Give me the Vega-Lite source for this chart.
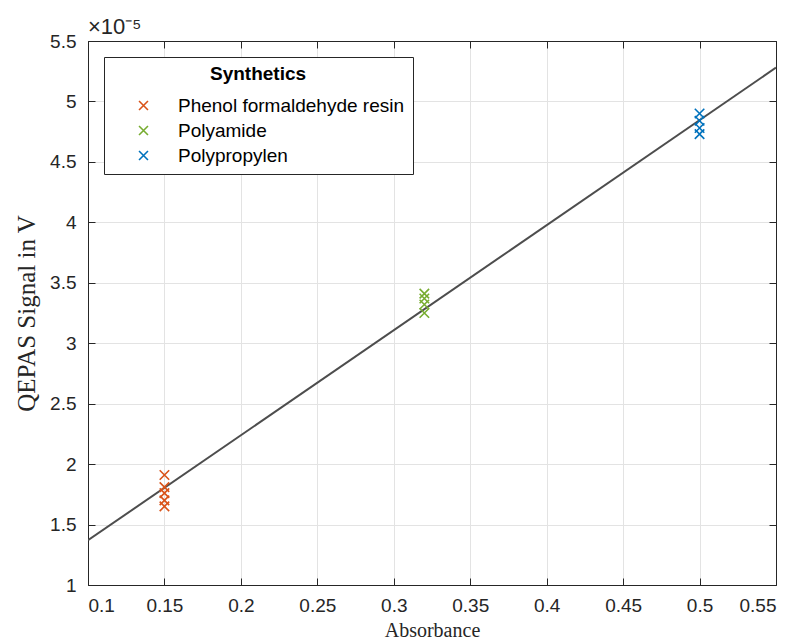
{
  "$schema": "https://vega.github.io/schema/vega-lite/v6.json",
  "width": 688,
  "height": 544,
  "autosize": "none",
  "padding": {"left": 88, "top": 41, "right": 24, "bottom": 58},
  "background": "white",
  "title": {"text": "×10⁻⁵", "anchor": "start", "frame": "group", "orient": "top", "offset": -24, "baseline": "alphabetic", "font": "Liberation Sans", "fontSize": 22, "fontWeight": "normal", "color": "#262626"},
  "datasets": {
    "fit": [
      {"x": 0.1, "y": 1.37},
      {"x": 0.55, "y": 5.28}
    ],
    "points": [
      {"group": "Phenol formaldehyde resin", "x": 0.15, "y": 1.91},
      {"group": "Phenol formaldehyde resin", "x": 0.15, "y": 1.81},
      {"group": "Phenol formaldehyde resin", "x": 0.15, "y": 1.76},
      {"group": "Phenol formaldehyde resin", "x": 0.15, "y": 1.70},
      {"group": "Phenol formaldehyde resin", "x": 0.15, "y": 1.65},
      {"group": "Polyamide", "x": 0.32, "y": 3.41},
      {"group": "Polyamide", "x": 0.32, "y": 3.37},
      {"group": "Polyamide", "x": 0.32, "y": 3.32},
      {"group": "Polyamide", "x": 0.32, "y": 3.25},
      {"group": "Polypropylen", "x": 0.5, "y": 4.90},
      {"group": "Polypropylen", "x": 0.5, "y": 4.84},
      {"group": "Polypropylen", "x": 0.5, "y": 4.78},
      {"group": "Polypropylen", "x": 0.5, "y": 4.73}
    ]
  },
  "resolve": {"axis": {"x": "independent", "y": "independent"}},
  "layer": [
    {
      "data": {"name": "fit"},
      "mark": {"type": "line", "color": "#4d4d4d", "strokeWidth": 2, "clip": true},
      "encoding": {
        "x": {"field": "x", "type": "quantitative", "scale": {"domain": [0.1, 0.55], "nice": false, "zero": false},
              "axis": {"orient": "bottom", "title": "Absorbance", "titleFontSize": 20, "values": [0.1,0.15,0.2,0.25,0.3,0.35,0.4,0.45,0.5,0.55], "format": "~g", "labelPadding": 18, "titlePadding": 5}},
        "y": {"field": "y", "type": "quantitative", "scale": {"domain": [1, 5.5], "nice": false, "zero": false},
              "axis": {"orient": "left", "title": "QEPAS Signal in V", "titleFontSize": 25, "values": [1,1.5,2,2.5,3,3.5,4,4.5,5,5.5], "format": "~g", "labelPadding": 19, "titlePadding": 10}}
      }
    },
    {
      "data": {"name": "points"},
      "mark": {"type": "point", "shape": "M-1,-1L1,1M-1,1L1,-1", "filled": false, "size": 90, "strokeWidth": 1.6, "opacity": 1},
      "encoding": {
        "x": {"field": "x", "type": "quantitative", "scale": {"domain": [0.1, 0.55], "nice": false, "zero": false},
              "axis": {"orient": "top", "labels": false, "title": null, "grid": false, "values": [0.1,0.15,0.2,0.25,0.3,0.35,0.4,0.45,0.5,0.55]}},
        "y": {"field": "y", "type": "quantitative", "scale": {"domain": [1, 5.5], "nice": false, "zero": false},
              "axis": {"orient": "right", "labels": false, "title": null, "grid": false, "values": [1,1.5,2,2.5,3,3.5,4,4.5,5,5.5]}},
        "color": {"field": "group", "type": "nominal",
                  "scale": {"domain": ["Phenol formaldehyde resin", "Polyamide", "Polypropylen"], "range": ["#D95319", "#77AC30", "#0072BD"]},
                  "legend": {"title": "Synthetics", "orient": "none", "legendX": 16, "legendY": 16,
                             "symbolType": "M-1,-1L1,1M-1,1L1,-1", "symbolStrokeWidth": 1.6, "symbolSize": 80, "symbolFillColor": "transparent",
                             "symbolOffset": 22, "labelOffset": 25, "rowPadding": 5, "titlePadding": 12, "padding": 8, "labelLimit": 500,
                             "titleAnchor": "middle", "titleFont": "Liberation Sans", "titleFontSize": 19, "titleFontWeight": "bold", "titleColor": "#000000",
                             "titleBaseline": "top", "labelFont": "Liberation Sans", "labelFontSize": 19, "labelColor": "#000000",
                             "strokeColor": "#262626", "fillColor": "white", "cornerRadius": 0}}
      }
    }
  ],
  "config": {
    "view": {"stroke": "#262626", "strokeWidth": 1},
    "axis": {
      "labelFont": "Liberation Sans", "labelFontSize": 19, "labelColor": "#262626",
      "titleFont": "Liberation Serif", "titleFontSize": 21, "titleFontWeight": "normal", "titleColor": "#262626",
      "domainColor": "#262626", "tickColor": "#262626", "tickSize": -7, "tickWidth": 1,
      "gridColor": "#e3e3e3", "gridWidth": 1, "grid": true
    }
  }
}
